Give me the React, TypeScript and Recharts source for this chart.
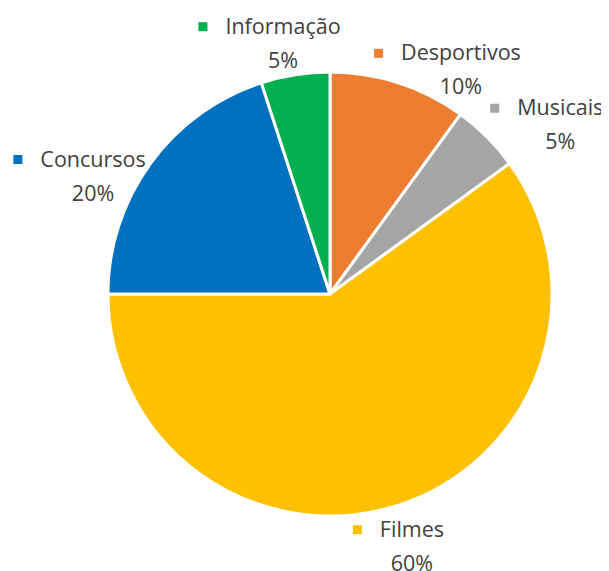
import React from "react"
import { PieChart, Pie, Cell } from "recharts"

const categories = ["Desportivos", "Musicais", "Filmes", "Concursos", "Informação"]
const shares = [10, 5, 60, 20, 5]
const colors = ["#ED7D31", "#A5A5A5", "#FFC000", "#0070C0", "#00B050"]

const data = categories.map((name, i) => ({ name, value: shares[i] }))

// label tweaks so they sit where excel put them (dx, dy from the radial spot)
const labelNudge: Record<string, [number, number]> = {
  Desportivos: [50, 24],
  Musicais: [45, 15],
  Filmes: [1, 2],
  Concursos: [-25, 35],
  Informação: [-6, 7],
}

const FONT = "'Open Sans', sans-serif"
const FONT_SIZE = 21.5
const RAD = Math.PI / 180

let ctx: CanvasRenderingContext2D | null = null
const textWidth = (s: string) => {
  if (!ctx) ctx = document.createElement("canvas").getContext("2d")
  if (!ctx) return s.length * FONT_SIZE * 0.55
  ctx.font = `${FONT_SIZE}px 'Open Sans'`
  return ctx.measureText(s).width
}

const renderLabel = (props: any) => {
  const { cx, cy, midAngle, outerRadius, name, percent, index } = props
  const r = outerRadius + 40
  const [nx, ny] = labelNudge[name] || [0, 0]
  const x = cx + r * Math.cos(-midAngle * RAD) + nx
  const y = cy + r * Math.sin(-midAngle * RAD) + ny
  const w = textWidth(name)
  const y1 = y - 17
  const y2 = y + 17
  return (
    <g>
      <rect x={x - w / 2 - 27} y={y1 - 3} width={9} height={9} fill={colors[index]} />
      <text x={x} y={y1} textAnchor="middle" dominantBaseline="central" fill="#404040" fontSize={FONT_SIZE} fontFamily={FONT}>
        {name}
      </text>
      <text x={x} y={y2} textAnchor="middle" dominantBaseline="central" fill="#404040" fontSize={FONT_SIZE} fontFamily={FONT}>
        {`${Math.round(percent * 100)}%`}
      </text>
    </g>
  )
}

export default function App() {
  return (
    <div style={{ width: 601, height: 563 }}>
      <PieChart width={601} height={563} margin={{ top: 0, right: 0, bottom: 0, left: 0 }}>
        <Pie
          data={data}
          dataKey="value"
          nameKey="name"
          cx={322}
          cy={286}
          outerRadius={222}
          startAngle={90}
          endAngle={-270}
          stroke="#ffffff"
          strokeWidth={3}
          label={renderLabel}
          labelLine={false}
          isAnimationActive={false}
        >
          {data.map((d, i) => (
            <Cell key={d.name} fill={colors[i]} />
          ))}
        </Pie>
      </PieChart>
    </div>
  )
}
